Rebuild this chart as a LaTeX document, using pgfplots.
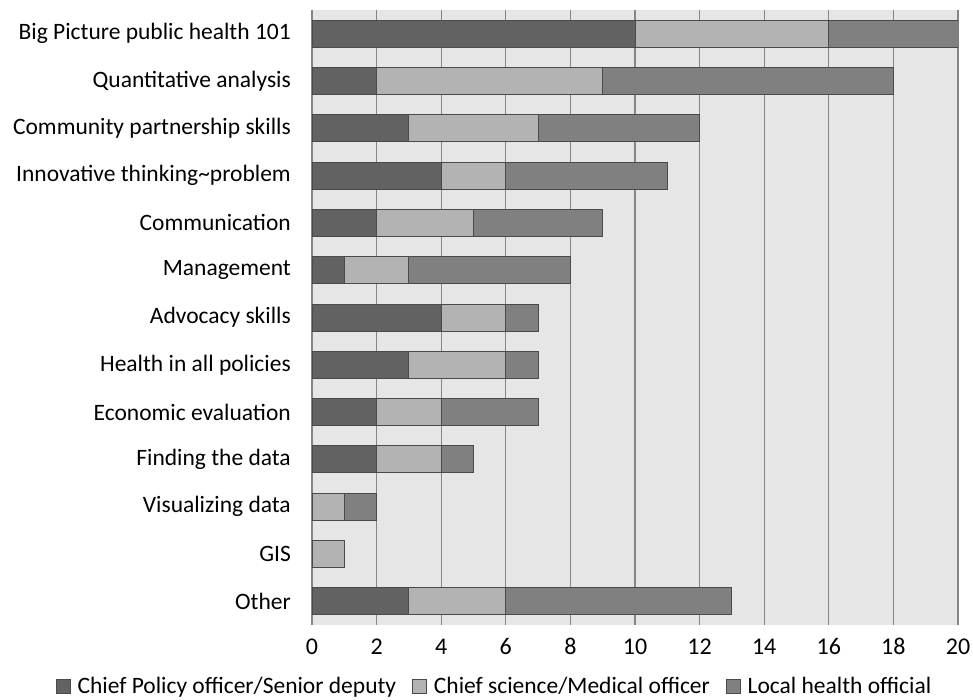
\documentclass[border=0pt]{standalone}
\usepackage{pgfplots}
\usepackage{pgfplotstable}
\pgfplotsset{compat=1.18}
\usepackage{fontspec}
\setmainfont{Carlito}

\definecolor{cpo}{HTML}{626262}
\definecolor{cso}{HTML}{B3B3B3}
\definecolor{lho}{HTML}{808080}
\definecolor{edge}{HTML}{4A4A4A}
\definecolor{bg}{HTML}{E6E6E6}
\definecolor{gridc}{HTML}{858585}

% y: position from the top; a: Chief Policy officer/Senior deputy,
% b: Chief science/Medical officer, c: Local health official
\pgfplotstableread{
y a b c
0 10 6 4
1 2 7 9
2 3 4 5
3 4 2 5
4 2 3 4
5 1 2 5
6 4 2 1
7 3 3 1
8 2 2 3
9 2 2 1
10 0 1 1
11 0 1 0
12 3 3 7
}\skills

\begin{document}
\begin{tikzpicture}
\path[use as bounding box] (0pt,0pt) rectangle (973pt,700pt);
\begin{axis}[
  at={(312pt,75pt)}, anchor=south west,
  scale only axis, width=646pt, height=615pt,
  xbar stacked, bar width=27pt,
  xmin=0, xmax=20, ymin=-0.5, ymax=12.5,
  y dir=reverse,
  ytick={0,...,12},
  yticklabels={Big Picture public health 101,Quantitative analysis,Community partnership skills,Innovative thinking\textasciitilde problem,Communication,Management,Advocacy skills,Health in all policies,Economic evaluation,Finding the data,Visualizing data,GIS,Other},
  xtick={0,2,...,20},
  xmajorgrids, grid style={draw=gridc, line width=1.3pt},
  axis background/.style={fill=bg},
  axis line style={draw=none},
  major tick length=0pt,
  y tick label style={font=\fontsize{23.5}{28}\selectfont, anchor=east, inner sep=0pt, xshift=-21pt},
  x tick label style={font=\fontsize{24}{28}\selectfont, anchor=center, inner sep=0pt,
    text height=15pt, text depth=0pt, yshift=-22pt},
  /pgf/number format/assume math mode=true,
  legend columns=3,
  legend style={at={(0.2825,-0.0992)}, anchor=center, draw=none, fill=none,
    font=\fontsize{23.5}{28}\selectfont, inner sep=0pt,
    /tikz/every odd column/.append style={column sep=5pt},
    /tikz/every even column/.append style={column sep=14pt}},
  legend image code/.code={\draw[#1, draw=edge, line width=0.8pt] (0pt,-7pt) rectangle (14pt,7pt);},
  every axis plot/.append style={draw=edge, line width=1pt},
]
\addplot[fill=cpo] table[x=a, y=y] {\skills};
\addplot[fill=cso] table[x=b, y=y] {\skills};
\addplot[fill=lho] table[x=c, y=y] {\skills};
\legend{Chief Policy officer/Senior deputy, Chief science/Medical officer, Local health official}
\end{axis}
\end{tikzpicture}
\end{document}
